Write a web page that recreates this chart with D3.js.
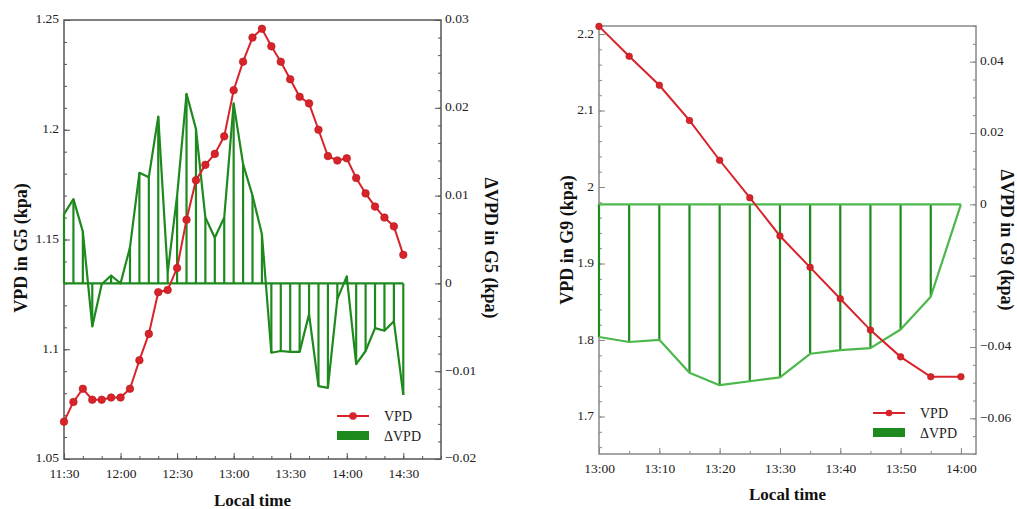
<!DOCTYPE html>
<html>
<head>
<meta charset="utf-8">
<script src="https://cdn.jsdelivr.net/npm/d3@7"></script>
<style>
  html, body { margin: 0; padding: 0; background: #fff; }
  svg { display: block; }
  text { font-family: "Liberation Serif", "Times New Roman", serif; }
</style>
</head>
<body>
<svg id="chart" width="1017" height="509"></svg>
<script>
// ---------------- DATA ----------------
const timesG5 = ["11:30","11:35","11:40","11:45","11:50","11:55","12:00","12:05","12:10","12:15",
  "12:20","12:25","12:30","12:35","12:40","12:45","12:50","12:55","13:00","13:05",
  "13:10","13:15","13:20","13:25","13:30","13:35","13:40","13:45","13:50","13:55",
  "14:00","14:05","14:10","14:15","14:20","14:25","14:30"];
const vpdG5 = [1.067,1.076,1.082,1.077,1.077,1.078,1.078,1.082,1.095,1.107,
  1.126,1.127,1.137,1.159,1.177,1.184,1.189,1.197,1.218,1.231,
  1.242,1.246,1.238,1.231,1.223,1.215,1.212,1.200,1.188,1.186,
  1.187,1.178,1.171,1.165,1.160,1.156,1.143];
const dvpdG5 = [0.0079,0.0096,0.0059,-0.0049,-0.0001,0.0009,0.0000,0.0041,0.0126,0.0121,
  0.0190,0.0012,0.0100,0.0216,0.0176,0.0075,0.0052,0.0075,0.0205,0.0136,
  0.0100,0.0056,-0.0079,-0.0077,-0.0078,-0.0078,-0.0035,-0.0117,-0.0119,-0.0018,
  0.0008,-0.0092,-0.0077,-0.0051,-0.0054,-0.0043,-0.0127];

const timesG9 = ["13:00","13:05","13:10","13:15","13:20","13:25","13:30","13:35","13:40","13:45","13:50","13:55","14:00"];
const vpdG9 = [2.210,2.171,2.133,2.087,2.035,1.986,1.936,1.895,1.854,1.813,1.778,1.752,1.752];
const dvpdG9 = [-0.0372,-0.0386,-0.0380,-0.0472,-0.0507,-0.0496,-0.0485,-0.0419,-0.0409,-0.0403,-0.0351,-0.0259,0.0000];

const xTicksG5 = ["11:30","12:00","12:30","13:00","13:30","14:00","14:30"];
const yTicksG5 = [1.05,1.1,1.15,1.2,1.25];
const yLabelsG5 = ["1.05","1.1","1.15","1.2","1.25"];
const y2TicksG5 = [-0.02,-0.01,0,0.01,0.02,0.03];
const y2LabelsG5 = ["\u22120.02","\u22120.01","0","0.01","0.02","0.03"];
const xTicksG9 = ["13:00","13:10","13:20","13:30","13:40","13:50","14:00"];
const yTicksG9 = [1.7,1.8,1.9,2,2.1,2.2];
const yLabelsG9 = ["1.7","1.8","1.9","2","2.1","2.2"];
const y2TicksG9 = [-0.06,-0.04,-0.02,0,0.02,0.04];
const y2LabelsG9 = ["\u22120.06","\u22120.04","","0","0.02","0.04"];

const seriesNames = ["VPD","\u0394VPD"];

// ---------------- DRAW ----------------
const parse = d3.timeParse("%H:%M");
const parseS = d3.timeParse("%H:%M:%S");
const fmtTime = d3.timeFormat("%H:%M");
const svg = d3.select("#chart");

const RED = "#d8232a";
const GREEN = "#1e8a1e";
const GREEN_LIGHT = "#4cb84c";
const TICK_FONT = 13.5;

function panel(cfg) {
  const g = svg.append("g");
  const {x0, x1, y0, y1} = cfg;
  const x = d3.scaleTime().domain(cfg.xDomain).range([x0, x1]);
  const y = d3.scaleLinear().domain(cfg.yDomain).range([y1, y0]);
  const y2 = d3.scaleLinear().domain(cfg.y2Domain).range([y1, y0]);

  const times = cfg.times.map(parse);

  // frame
  g.append("rect").attr("x", x0).attr("y", y0).attr("width", x1 - x0).attr("height", y1 - y0)
    .attr("fill", "none").attr("stroke", cfg.frameColor).attr("stroke-width", 1.5);

  function styleAxis(sel, fontSize) {
    sel.select(".domain").remove();
    sel.selectAll(".tick line").attr("stroke", cfg.frameColor).attr("stroke-width", 1);
    sel.selectAll(".tick text").attr("fill", "#222").style("font-size", fontSize + "px")
      .style("font-family", '"Liberation Serif", serif');
  }

  // minor ticks
  const minorX = d3.axisBottom(x).tickValues(cfg.xMinor).tickSize(-3).tickFormat("");
  styleAxis(g.append("g").attr("transform", `translate(0,${y1})`).call(minorX), 13);
  const minorY = d3.axisLeft(y).tickValues(cfg.yMinor).tickSize(-3).tickFormat("");
  styleAxis(g.append("g").attr("transform", `translate(${x0},0)`).call(minorY), 13);
  const minorY2 = d3.axisRight(y2).tickValues(cfg.y2Minor).tickSize(-3).tickFormat("");
  styleAxis(g.append("g").attr("transform", `translate(${x1},0)`).call(minorY2), 13);

  // major ticks
  const ax = d3.axisBottom(x).tickValues(cfg.xTicks.map(parse)).tickSizeInner(-6).tickSizeOuter(0)
    .tickPadding(9).tickFormat(fmtTime);
  styleAxis(g.append("g").attr("transform", `translate(0,${y1})`).call(ax), TICK_FONT);
  const ay = d3.axisLeft(y).tickValues(cfg.yTicks).tickSizeInner(-6).tickSizeOuter(0)
    .tickPadding(5).tickFormat((d, i) => cfg.yLabels[i]);
  const ayG = g.append("g").attr("transform", `translate(${x0},0)`).call(ay);
  styleAxis(ayG, TICK_FONT);
  ayG.selectAll(".tick text").attr("dy", "0.22em");
  const ay2 = d3.axisRight(y2).tickValues(cfg.y2Ticks).tickSizeInner(-6).tickSizeOuter(0)
    .tickPadding(4).tickFormat((d, i) => cfg.y2Labels[i]);
  const ay2G = g.append("g").attr("transform", `translate(${x1},0)`).call(ay2);
  styleAxis(ay2G, TICK_FONT);
  ay2G.selectAll(".tick text").attr("dy", "0.22em");

  // delta series: verticals, baseline, polyline
  const dv = cfg.dvpd;
  const zeroY = y2(0);
  g.append("g").selectAll("line").data(times).join("line")
    .attr("x1", d => x(d)).attr("x2", d => x(d))
    .attr("y1", zeroY).attr("y2", (d, i) => y2(dv[i]))
    .attr("stroke", GREEN).attr("stroke-width", 2.2);
  g.append("line").attr("x1", x(times[0])).attr("x2", x(times[times.length - 1]))
    .attr("y1", zeroY).attr("y2", zeroY).attr("stroke", cfg.baseColor).attr("stroke-width", 2.2);
  g.append("path").datum(times)
    .attr("d", d3.line().x(d => x(d)).y((d, i) => y2(dv[i])))
    .attr("fill", "none").attr("stroke", cfg.polyColor).attr("stroke-width", 2.2)
    .attr("stroke-linejoin", "round");

  // VPD series
  const vp = cfg.vpd;
  g.append("path").datum(times)
    .attr("d", d3.line().x(d => x(d)).y((d, i) => y(vp[i])))
    .attr("fill", "none").attr("stroke", RED).attr("stroke-width", 2);
  g.append("g").selectAll("circle").data(times).join("circle")
    .attr("cx", d => x(d)).attr("cy", (d, i) => y(vp[i])).attr("r", cfg.dotR)
    .attr("fill", RED).attr("stroke", "#b01818").attr("stroke-width", 0.6);

  // legend
  const L = cfg.legend;
  g.append("line").attr("x1", L.x).attr("x2", L.x + 32).attr("y1", L.y).attr("y2", L.y)
    .attr("stroke", RED).attr("stroke-width", 2);
  g.append("circle").attr("cx", L.x + 16).attr("cy", L.y).attr("r", cfg.dotR).attr("fill", RED);
  g.append("text").attr("x", L.x + 47).attr("y", L.y + 5).text(seriesNames[0])
    .style("font-size", "14px").attr("fill", "#222");
  g.append("rect").attr("x", L.x).attr("y", L.y + 15).attr("width", 32).attr("height", 9)
    .attr("fill", GREEN);
  g.append("text").attr("x", L.x + 47).attr("y", L.y + 25).text(seriesNames[1])
    .style("font-size", "14px").attr("fill", "#222");

  // titles
  g.append("text").attr("transform", `translate(${cfg.yTitleX},${cfg.titleCY}) rotate(-90)`)
    .attr("text-anchor", "middle").style("font-size", "18px").style("font-weight", "bold")
    .attr("fill", "#111").text(cfg.yTitle);
  g.append("text").attr("transform", `translate(${cfg.y2TitleX},${cfg.titleCY}) rotate(90)`)
    .attr("text-anchor", "middle").style("font-size", "18px").style("font-weight", "bold")
    .attr("fill", "#111").text(cfg.y2Title);
  g.append("text").attr("x", (x0 + x1) / 2).attr("y", cfg.xTitleY)
    .attr("text-anchor", "middle").style("font-size", "17px").style("font-weight", "bold")
    .attr("fill", "#111").text("Local time");
}

function range(a, b, step) {
  const out = [];
  for (let v = a; v <= b + 1e-9; v += step) out.push(+v.toFixed(4));
  return out;
}
function timeRange(start, end, stepMin) {
  return d3.timeMinute.every(stepMin).range(parse(start), d3.timeMinute.offset(parse(end), 1));
}

panel({
  x0: 64, x1: 441, y0: 20, y1: 459,
  xDomain: [parse("11:30"), parse("14:50")],
  yDomain: [1.05, 1.25], y2Domain: [-0.02, 0.03],
  times: timesG5, vpd: vpdG5, dvpd: dvpdG5,
  xTicks: xTicksG5, yTicks: yTicksG5, y2Ticks: y2TicksG5,
  yLabels: yLabelsG5, y2Labels: y2LabelsG5,
  xMinor: timeRange("11:30", "14:50", 10),
  yMinor: range(1.05, 1.25, 0.01),
  y2Minor: range(-0.02, 0.03, 0.002),
  frameColor: "#555", baseColor: GREEN, polyColor: GREEN,
  dotR: 3.8,
  legend: {x: 337, y: 416},
  yTitle: "VPD in G5 (kpa)", y2Title: "\u0394VPD in G5 (kpa)",
  yTitleX: 27, y2TitleX: 485, titleCY: 248, xTitleY: 506
});

panel({
  x0: 599, x1: 976, y0: 26, y1: 454,
  xDomain: [parse("13:00"), parseS("14:02:30")],
  yDomain: [1.651, 2.2105], y2Domain: [-0.07, 0.05],
  times: timesG9, vpd: vpdG9, dvpd: dvpdG9,
  xTicks: xTicksG9, yTicks: yTicksG9, y2Ticks: y2TicksG9,
  yLabels: yLabelsG9, y2Labels: y2LabelsG9,
  xMinor: timeRange("13:00", "14:00", 5),
  yMinor: range(1.66, 2.2, 0.02),
  y2Minor: range(-0.07, 0.05, 0.005),
  frameColor: "#888", baseColor: GREEN_LIGHT, polyColor: GREEN_LIGHT,
  dotR: 3.3,
  legend: {x: 873, y: 413},
  yTitle: "VPD in G9 (kpa)", y2Title: "\u0394VPD in G9 (kpa)",
  yTitleX: 573, y2TitleX: 1001, titleCY: 240, xTitleY: 500
});
</script>
</body>
</html>
